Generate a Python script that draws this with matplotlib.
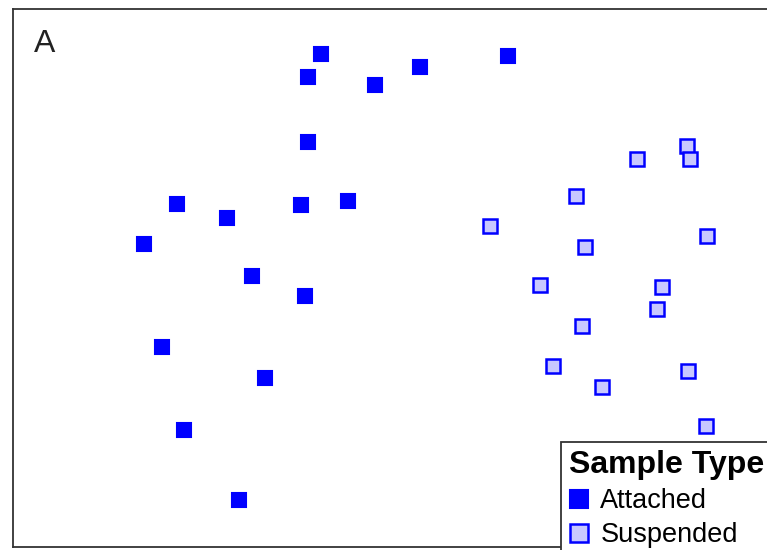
import matplotlib
matplotlib.use("Agg")
import matplotlib.pyplot as plt
from matplotlib.lines import Line2D

plt.rcParams['font.family'] = ['Liberation Sans', 'DejaVu Sans']

# Ordination coordinates (arbitrary units)
attached_x = [321, 308, 375, 420, 508, 308, 177, 227, 301, 348, 144, 252, 305, 162, 265, 184, 239]
attached_y = [496, 473, 465, 483, 494, 408, 346, 332, 345, 349, 306, 274, 254, 203, 172, 120, 50]
suspended_x = [687, 637, 690, 576, 490, 585, 707, 540, 662, 657, 582, 553, 602, 688, 706]
suspended_y = [404, 391, 391, 354, 324, 303, 314, 265, 263, 241, 224, 184, 163, 179, 124]
group_labels = ["Attached", "Suspended"]
legend_title = "Sample Type"
panel_label = "A"

W, H = 767, 550
fig = plt.figure(figsize=(W / 100, H / 100), dpi=100)
ax = fig.add_axes([13 / W, 3 / H, (790 - 13) / W, (547 - 9) / H])
ax.set_xlim(13, 790)
ax.set_ylim(3, 541)
ax.set_xticks([])
ax.set_yticks([])
for s in ax.spines.values():
    s.set_color('#333333')
    s.set_linewidth(1.3)

blue = '#0000FF'
light = '#C8C8FF'
ms = 10
ax.plot(attached_x, attached_y, 's', ms=ms, mfc=blue, mec=blue, mew=1.5, ls='none')
ax.plot(suspended_x, suspended_y, 's', ms=ms, mfc=light, mec=blue, mew=1.8, ls='none')

fig.text(34 / W, 1 - 52 / H, panel_label, fontsize=23, va='baseline', ha='left', color='#222222')

handles = [
    Line2D([], [], marker='s', ls='none', ms=ms, mfc=blue, mec=blue, mew=1.5),
    Line2D([], [], marker='s', ls='none', ms=ms, mfc=light, mec=blue, mew=1.8),
]
leg = fig.legend(handles, group_labels, title=legend_title,
                 loc='upper left', bbox_to_anchor=(561 / W, 1 - 442 / H),
                 bbox_transform=fig.transFigure, borderaxespad=0,
                 fontsize=19.5, title_fontproperties={'weight': 'bold', 'size': 23},
                 markerscale=1.3, fancybox=False, framealpha=1,
                 edgecolor='#333333', alignment='left',
                 handlelength=0.75, handletextpad=0.4, labelspacing=0.3,
                 borderpad=0.3)
leg.get_frame().set_linewidth(1.3)

fig.savefig('out.png', dpi=100)
